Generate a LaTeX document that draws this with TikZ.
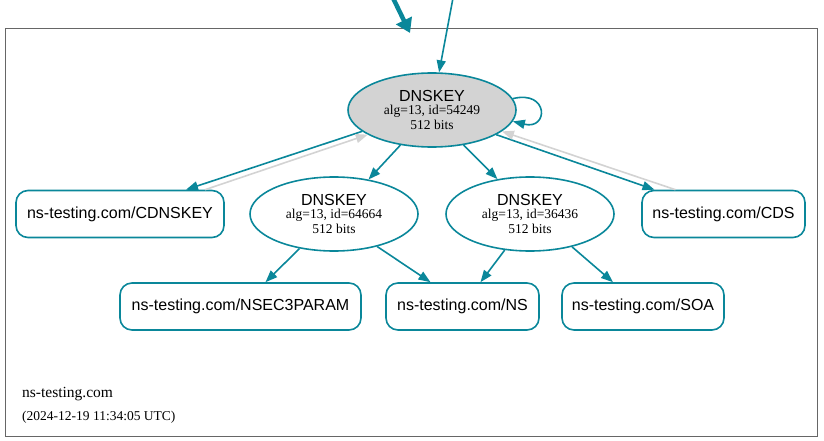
\documentclass[tikz,border=0pt]{standalone}
\usepackage{fontspec}
\setmainfont{Liberation Serif}
\setsansfont{Liberation Sans}
\usetikzlibrary{shapes.geometric,arrows.meta}
\definecolor{dnsteal}{RGB}{10,135,154}
\definecolor{dnsgray}{RGB}{211,211,211}
\tikzset{
  key/.style={draw=dnsteal,line width=1.6pt,ellipse,minimum width=168pt,minimum height=74pt,inner sep=0pt,align=center,font=\fontsize{13.5}{14}\selectfont},
  rrset/.style={draw=dnsteal,line width=1.6pt,rounded corners=12pt,minimum height=47pt,inner sep=0pt,font=\fontsize{16}{18}\sffamily},
  edge/.style={draw=dnsteal,line width=1.6pt,-{Triangle[length=12pt,width=9pt]}},
  back/.style={draw=dnsgray,line width=1.6pt,-{Triangle[length=12pt,width=9pt]}},
}
\newcommand{\keytext}[1]{{\fontsize{16}{16}\sffamily DNSKEY}\\[-1pt]alg=13, id=#1\\[1pt]512 bits}
\begin{document}
\begin{tikzpicture}[x=1pt,y=-1pt]
        \useasboundingbox (0,0) rectangle (824,441);
        \draw[line width=0.9pt,black!60] (5,28) rectangle (817,436);

        \node[key,fill=dnsgray] (ksk) at (432,110){\keytext{54249}};
        \node[key] (zsk1) at (334,214){\keytext{64664}};
        \node[key] (zsk2) at (530,214){\keytext{36436}};
        \node[rrset,minimum width=208pt] (cdnskey) at (120,214){ns-testing.com/CDNSKEY};
        \node[rrset,minimum width=163pt] (cds) at (723.5,214){ns-testing.com/CDS};
        \node[rrset,minimum width=241pt] (nsec3param) at (240.5,306.5){ns-testing.com/NSEC3PARAM};
        \node[rrset,minimum width=153pt] (ns) at (462.5,306.5){ns-testing.com/NS};
        \node[rrset,minimum width=162pt] (soa) at (643,306.5){ns-testing.com/SOA};

        \coordinate (in1) at (393,-2);
        \coordinate (in1tip) at (410,33);
        \coordinate (in2) at (453,-2);

        \draw[dnsteal,line width=4.5pt,-{Triangle[length=14pt,width=17pt]}] (in1) -- (in1tip);
        \draw[edge] (in2) -- (ksk);
        \draw[edge] (ksk.8) .. controls +(36,-9) and +(36,9) .. (ksk.-8);

        \draw[edge] (ksk.197) -- ([xshift=66pt]cdnskey.north);
        \draw[back] ([xshift=85pt]cdnskey.north) -- (ksk.201);
        \draw[edge] (ksk.228) -- (zsk1.45);
        \draw[edge] (ksk.-48) -- (zsk2.133);
        \draw[edge] (ksk.-21) -- ([xshift=-69pt]cds.north);
        \draw[back] ([xshift=-48pt]cds.north) -- (ksk.-17);

        \draw[edge] (zsk1.225) -- ([xshift=25pt]nsec3param.north);
        \draw[edge] (zsk1.-37) -- ([xshift=-32pt]ns.north);
        \draw[edge] (zsk2.235) -- ([xshift=18pt]ns.north);
        \draw[edge] (zsk2.-38) -- ([xshift=-30pt]soa.north);

        \node[anchor=base west,inner sep=0pt,font=\fontsize{15.5}{17}\selectfont] (zone) at (22,397){ns-testing.com};
        \node[anchor=base west,inner sep=0pt,font=\fontsize{13.5}{15}\selectfont] (stamp) at (22,420){(2024-12-19 11:34:05 UTC)};
\end{tikzpicture}
\end{document}
